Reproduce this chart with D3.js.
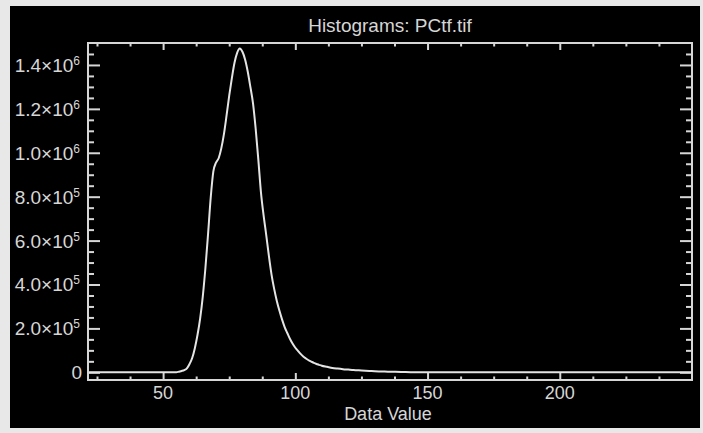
<!DOCTYPE html>
<html>
<head>
<meta charset="utf-8">
<script src="https://cdn.jsdelivr.net/npm/d3@7"></script>
<style>
body { margin: 0; background: #e8e8e8; }
</style>
</head>
<body>
<div id="hist_chart"></div>
<script>

// histogram (bin value, count)
var bins   = [22, 55, 56, 57, 58, 59, 60, 61, 62, 63, 64, 65, 66, 67, 68, 69, 70, 71, 72, 73, 74, 75, 76, 77, 78, 79, 80, 81, 82, 83, 84, 85, 86, 87, 88, 89, 90, 91, 92, 93, 94, 95, 96, 97, 98, 99, 100, 101, 102, 103, 104, 105, 106, 107, 108, 109, 110, 112, 114, 116, 118, 120, 122, 125, 128, 130, 135, 140, 145, 250]
var counts = [0, 0, 3000, 6000, 10000, 18000, 38000, 65000, 110000, 170000, 245000, 345000, 475000, 630000, 795000, 915000, 955000, 975000, 1020000, 1085000, 1170000, 1260000, 1340000, 1410000, 1455000, 1475000, 1460000, 1425000, 1370000, 1300000, 1225000, 1110000, 970000, 820000, 715000, 625000, 530000, 445000, 380000, 325000, 280000, 240000, 205000, 178000, 152000, 130000, 112000, 98000, 84000, 72000, 63000, 55000, 49000, 43000, 38000, 34000, 30000, 25000, 20000, 17000, 14500, 12500, 10500, 8500, 6500, 5000, 3000, 1500, 0, 0]

var xRange = [21.6, 250]
var yRange = [-35000, 1500000]

var xMajor = [50, 100, 150, 200]
var xMinor = [25, 37.5, 62.5, 75, 87.5, 112.5, 125, 137.5, 162.5, 175, 187.5, 212.5, 225, 237.5]
var xLabels = ["50", "100", "150", "200"]

var yMajor = [0, 200000, 400000, 600000, 800000, 1000000, 1200000, 1400000]
var yMantissa = ["0", "2.0\u00d710", "4.0\u00d710", "6.0\u00d710", "8.0\u00d710", "1.0\u00d710", "1.2\u00d710", "1.4\u00d710"]
var yExponent = ["", "5", "5", "5", "5", "6", "6", "6"]
var yMinor = [50000, 100000, 150000, 250000, 300000, 350000, 450000, 500000, 550000, 650000, 700000, 750000, 850000, 900000, 950000, 1050000, 1100000, 1150000, 1250000, 1300000, 1350000, 1450000]

var title = "Histograms: PCtf.tif"
var xTitle = "Data Value"

var fgColor = "#d6d6d6"
var fontFam = "'Liberation Sans', Arial, sans-serif"

// plot box
var W = 703, H = 433
var box = {left: 88, right: 692, top: 43, bottom: 380}

var svg = d3.select("#hist_chart")
	.append("svg")
		.attr("width", W)
		.attr("height", H)

// grey window edge and black panel
svg.append("rect").attr("x", 0).attr("y", 0).attr("width", W).attr("height", H).attr("fill", "#e8e8e8")
svg.append("rect").attr("x", 10).attr("y", 6).attr("width", 690).attr("height", 422).attr("fill", "#000")

var x = d3.scaleLinear().domain(xRange).range([box.left, box.right])
var y = d3.scaleLinear().domain(yRange).range([box.bottom, box.top])

// draws only tick marks, no domain path or text
function tickMarks(axis, tx, ty) {
	var g = svg.append("g")
		.attr("transform", "translate(" + tx + "," + ty + ")")
		.call(axis.tickFormat(""))
	g.select(".domain").remove()
	g.selectAll("line").attr("stroke", fgColor).attr("stroke-width", 2)
	return g
}

// ticks point inward on all four sides
tickMarks(d3.axisBottom(x).tickValues(xMajor).tickSize(-7), 0, box.bottom)
tickMarks(d3.axisBottom(x).tickValues(xMinor).tickSize(-3.5), 0, box.bottom)
tickMarks(d3.axisTop(x).tickValues(xMajor).tickSize(-7), 0, box.top)
tickMarks(d3.axisTop(x).tickValues(xMinor).tickSize(-3.5), 0, box.top)

tickMarks(d3.axisLeft(y).tickValues(yMajor).tickSize(-12), box.left, 0)
tickMarks(d3.axisLeft(y).tickValues(yMinor).tickSize(-6), box.left, 0)
tickMarks(d3.axisRight(y).tickValues(yMajor).tickSize(-12), box.right, 0)
tickMarks(d3.axisRight(y).tickValues(yMinor).tickSize(-6), box.right, 0)

// frame
svg.append("rect")
	.attr("x", box.left)
	.attr("y", box.top)
	.attr("width", box.right - box.left)
	.attr("height", box.bottom - box.top)
	.attr("fill", "none")
	.attr("stroke", fgColor)
	.attr("stroke-width", 2)

// the histogram curve
var line = d3.line()
	.x(function(d, i) { return x(bins[i]); })
	.y(function(d) { return y(d); })
	.curve(d3.curveMonotoneX)

svg.append("path")
	.datum(counts)
	.attr("d", line)
	.attr("fill", "none")
	.attr("stroke", "#e4e4e4")
	.attr("stroke-width", 2)

// x labels
svg.selectAll("text.xlab")
	.data(xMajor)
	.enter()
	.append("text")
		.attr("class", "xlab")
		.attr("x", function(d) { return x(d); })
		.attr("y", 399)
		.attr("text-anchor", "middle")
		.attr("fill", fgColor)
		.style("font-family", fontFam)
		.style("font-size", "18px")
		.text(function(d, i) { return xLabels[i]; })

// y labels with superscript exponent
var yl = svg.selectAll("text.ylab")
	.data(yMajor)
	.enter()
	.append("text")
		.attr("class", "ylab")
		.attr("x", function(d, i) { return yExponent[i] ? 80 : 82; })
		.attr("y", function(d) { return y(d) + 7; })
		.attr("text-anchor", "end")
		.attr("fill", fgColor)
		.style("font-family", fontFam)
		.style("font-size", "19px")

yl.append("tspan").text(function(d, i) { return yMantissa[i]; })
yl.append("tspan")
	.attr("dy", -7)
	.style("font-size", "12px")
	.text(function(d, i) { return yExponent[i]; })

// titles
svg.append("text")
	.attr("x", (box.left + box.right) / 2)
	.attr("y", 32)
	.attr("text-anchor", "middle")
	.attr("fill", fgColor)
	.style("font-family", fontFam)
	.style("font-size", "19px")
	.text(title)

svg.append("text")
	.attr("x", (box.left + box.right) / 2 - 2)
	.attr("y", 420)
	.attr("text-anchor", "middle")
	.attr("fill", fgColor)
	.style("font-family", fontFam)
	.style("font-size", "18px")
	.text(xTitle)

</script>
</body>
</html>
